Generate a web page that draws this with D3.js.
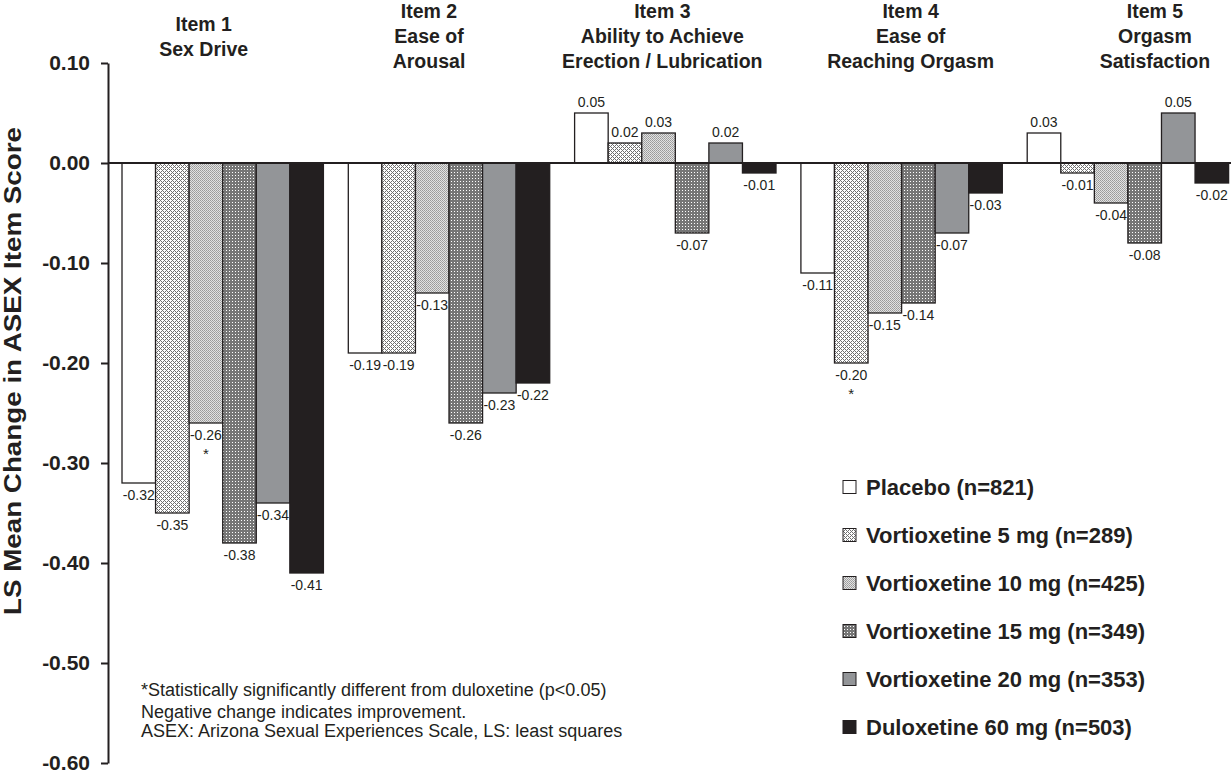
<!DOCTYPE html>
<html><head><meta charset="utf-8">
<script src="https://cdn.jsdelivr.net/npm/d3@7"></script>
<style>
body{margin:0;background:#fff}
svg{display:block}
text{font-family:"Liberation Sans",Arial,Helvetica,sans-serif;fill:#231f20}
</style>
</head><body>
<svg id="chart" width="1231" height="773"></svg>
<script>
// ---------- DATA ----------
const categories = ["Item 1", "Item 2", "Item 3", "Item 4", "Item 5"];
const categoryTitles = [
  ["Item 1", "Sex Drive"],
  ["Item 2", "Ease of", "Arousal"],
  ["Item 3", "Ability to Achieve", "Erection / Lubrication"],
  ["Item 4", "Ease of", "Reaching Orgasm"],
  ["Item 5", "Orgasm", "Satisfaction"]
];
const seriesNames = [
  "Placebo (n=821)",
  "Vortioxetine 5 mg (n=289)",
  "Vortioxetine 10 mg (n=425)",
  "Vortioxetine 15 mg (n=349)",
  "Vortioxetine 20 mg (n=353)",
  "Duloxetine 60 mg (n=503)"
];
const placebo = [-0.32, -0.19, 0.05, -0.11, 0.03];
const vortioxetine5 = [-0.35, -0.19, 0.02, -0.20, -0.01];
const vortioxetine10 = [-0.26, -0.13, 0.03, -0.15, -0.04];
const vortioxetine15 = [-0.38, -0.26, -0.07, -0.14, -0.08];
const vortioxetine20 = [-0.34, -0.23, 0.02, -0.07, 0.05];
const duloxetine60 = [-0.41, -0.22, -0.01, -0.03, -0.02];
// categories where a series is significantly different from duloxetine
const significantVortioxetine5 = ["Item 4"];
const significantVortioxetine10 = ["Item 1"];
const yTicks = [0.10, 0.00, -0.10, -0.20, -0.30, -0.40, -0.50, -0.60];
const footnotes = [
  "*Statistically significantly different from duloxetine (p<0.05)",
  "Negative change indicates improvement.",
  "ASEX: Arizona Sexual Experiences Scale, LS: least squares"
];
const yAxisTitle = "LS Mean Change in ASEX Item Score";

// ---------- BUILD ----------
const seriesValues = [placebo, vortioxetine5, vortioxetine10, vortioxetine15, vortioxetine20, duloxetine60];
const seriesSig = [[], significantVortioxetine5, significantVortioxetine10, [], [], []];
const rows = [];
seriesNames.forEach((s, si) => categories.forEach((c, ci) => {
  rows.push({series: s, si, category: c, value: seriesValues[si][ci], sig: seriesSig[si].includes(c)});
}));
const fmt = v => d3.format(".2f")(v).replace("\u2212", "-");

const svg = d3.select("#chart");
const W = 1231;
const axisX = 108;

// patterns
const defs = svg.append("defs");
function pat(id, size, bg, pixels, color) {
  const p = defs.append("pattern").attr("id", id).attr("patternUnits", "userSpaceOnUse")
    .attr("width", size).attr("height", size);
  p.append("rect").attr("width", size).attr("height", size).attr("fill", bg);
  pixels.forEach(([px, py, c]) => p.append("rect").attr("x", px).attr("y", py)
    .attr("width", 1).attr("height", 1).attr("fill", c || color));
}
// 5 mg: diagonal lattice with white diamonds
pat("p5", 4, "#ffffff", [[0,0],[1,1],[2,2],[3,3],[1,3],[3,1]], "#707070");
// 10 mg: fine checker
pat("p10", 2, "#e2e2e2", [[0,0],[1,1,"#a6a6a6"]], "#9a9a9a");
// 15 mg: dark grey grid with white dots
pat("p15", 3, "#767676", [[1,1]], "#ffffff");
const fills = ["#ffffff", "url(#p5)", "url(#p10)", "url(#p15)", "#939598", "#231f20"];

const y = d3.scaleLinear().domain([-0.6, 0.1]).range([763, 63]);
const x0 = d3.scaleBand().domain(categories).range([axisX, 1230])
  .paddingInner(0.11).paddingOuter(0.034).align(0.91);
const x1 = d3.scaleBand().domain(seriesNames).range([0, x0.bandwidth()]).padding(0);

// bars
const g = svg.append("g");
g.selectAll("rect.bar").data(rows).join("rect").attr("class", "bar")
  .attr("x", d => x0(d.category) + x1(d.series))
  .attr("width", x1.bandwidth())
  .attr("y", d => y(Math.max(0, d.value)))
  .attr("height", d => Math.abs(y(d.value) - y(0)))
  .attr("fill", d => fills[d.si])
  .attr("stroke", "#231f20").attr("stroke-width", 1.3);

// value labels
g.selectAll("text.val").data(rows).join("text").attr("class", "val")
  .attr("x", d => x0(d.category) + x1(d.series) + x1.bandwidth() / 2)
  .attr("y", d => d.value >= 0 ? y(d.value) - 6 : y(d.value) + 17)
  .attr("text-anchor", "middle").style("font-size", "14px")
  .text(d => fmt(d.value));

// significance asterisks
g.selectAll("text.sig").data(rows.filter(d => d.sig)).join("text").attr("class", "sig")
  .attr("x", d => x0(d.category) + x1(d.series) + x1.bandwidth() / 2)
  .attr("y", d => y(d.value) + 36)
  .attr("text-anchor", "middle").style("font-size", "15px")
  .text("*");

// zero line
svg.append("line").attr("x1", axisX).attr("x2", W).attr("y1", y(0)).attr("y2", y(0))
  .attr("stroke", "#231f20").attr("stroke-width", 2);

// y axis
const yAxis = svg.append("g").attr("transform", `translate(${axisX},0)`)
  .call(d3.axisLeft(y).tickValues(yTicks).tickFormat(fmt).tickSize(7).tickSizeOuter(0).tickPadding(11));
yAxis.select(".domain").attr("stroke", "#231f20").attr("stroke-width", 2);
yAxis.selectAll(".tick line").attr("stroke", "#231f20").attr("stroke-width", 2);
yAxis.selectAll(".tick text").attr("font-family", null).style("font-size", "21px").style("font-weight", "bold")
  .attr("fill", "#231f20");

// y axis title
svg.append("text").attr("transform", `translate(21,371) rotate(-90)`)
  .attr("text-anchor", "middle").style("font-size", "23px").style("font-weight", "bold")
  .attr("textLength", 488).attr("lengthAdjust", "spacingAndGlyphs")
  .text(yAxisTitle);

// category titles
const titleNudge = [-19, -20, -13, 9, 27];
categoryTitles.forEach((lines, ci) => {
  const cx = x0(categories[ci]) + x0.bandwidth() / 2 + titleNudge[ci];
  const first = 43 - (lines.length - 1) * 12.5;
  lines.forEach((t, li) => {
    svg.append("text").attr("x", cx).attr("y", first + li * 25).attr("text-anchor", "middle")
      .style("font-size", "19.5px").style("font-weight", "bold").text(t);
  });
});

// legend
const leg = svg.append("g").attr("transform", "translate(843,487)");
seriesNames.forEach((s, si) => {
  const row = leg.append("g").attr("transform", `translate(0,${si * 48})`);
  row.append("rect").attr("x", 0).attr("y", -6.5).attr("width", 13).attr("height", 13)
    .attr("fill", fills[si]).attr("stroke", "#231f20").attr("stroke-width", 1);
  row.append("text").attr("x", 23).attr("y", 8).style("font-size", "22px").style("font-weight", "bold").text(s);
});

// footnotes
footnotes.forEach((t, i) => {
  svg.append("text").attr("x", 141).attr("y", [696, 718, 737][i]).style("font-size", "18px").text(t);
});
</script>
</body></html>
